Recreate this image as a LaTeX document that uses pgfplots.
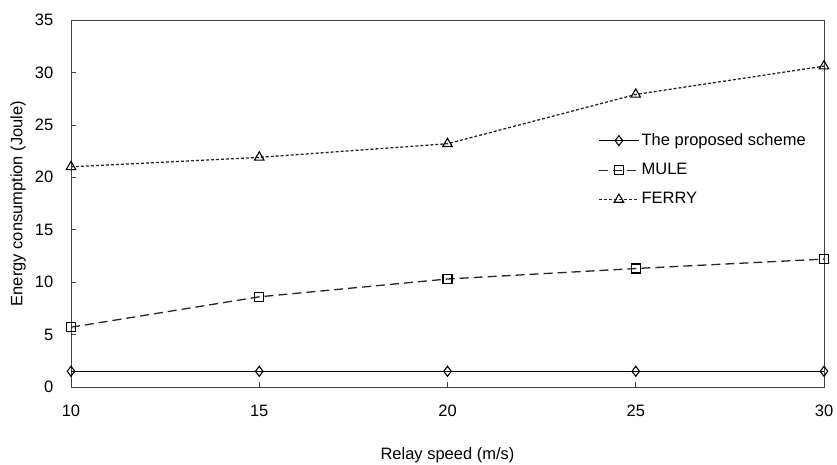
\documentclass[border=0pt]{standalone}
\usepackage{fontspec}
\setmainfont{Liberation Sans}
\usepackage{pgfplots}
\pgfplotsset{compat=1.18}
\usetikzlibrary{calc}

\begin{document}
\fontsize{16.5bp}{19bp}\selectfont
\begin{tikzpicture}
\begin{axis}[
  scale only axis,
  width=753bp, height=367bp,
  xmin=10, xmax=30,
  ymin=0, ymax=35,
  xtick={10,15,20,25,30},
  ytick={0,5,...,35},
  tick align=inside,
  xtick pos=bottom, ytick pos=left,
  major tick length=5bp,
  axis line style={black!75, line width=0.8bp},
  tick style={black!75, line width=0.6bp},
  /pgf/number format/assume math mode=true,
  xticklabel style={yshift=-12bp},
  yticklabel style={xshift=-12bp},
  xlabel={Relay speed (m/s)},
  ylabel={Energy consumption (Joule)},
  xlabel style={yshift=-20bp},
  ylabel style={yshift=-2bp},
  legend cell align=left,
  legend style={draw=none, fill=none, at={(0.70,0.697)}, anchor=north west,
    row sep=11.5bp, inner sep=0pt, font=\fontsize{16.5bp}{19bp}\selectfont},
  legend image code/.code={
    \draw[#1, mark repeat=2, mark phase=2] plot coordinates {(0bp,0bp) (20bp,0bp) (40bp,0bp)};
  },
]
\addplot[black, line width=1.3bp, mark=diamond, mark size=5bp,
  mark options={solid, fill=white, line width=1.1bp}] coordinates {
  (10,1.5) (15,1.5) (20,1.5) (25,1.5) (30,1.5)
};
\addlegendentry{The proposed scheme}
\addplot[black!85, line width=1.3bp, dash pattern=on 9bp off 5bp, mark=square, mark size=4.5bp,
  mark options={solid, fill=white, line width=1.1bp, black}] coordinates {
  (10,5.7) (15,8.6) (20,10.3) (25,11.3) (30,12.2)
};
\addlegendentry{MULE}
\addplot[black!85, line width=1.3bp, dash pattern=on 3bp off 2bp, mark=triangle, mark size=5.5bp,
  mark options={solid, fill=white, line width=1.1bp, black}] coordinates {
  (10,21.0) (15,21.9) (20,23.2) (25,27.9) (30,30.6)
};
\addlegendentry{FERRY}
\end{axis}
\pgfresetboundingbox
\useasboundingbox ($(current axis.south west)+(-71bp,-78bp)$) rectangle ($(current axis.north east)+(13bp,20bp)$);
\end{tikzpicture}
\end{document}
